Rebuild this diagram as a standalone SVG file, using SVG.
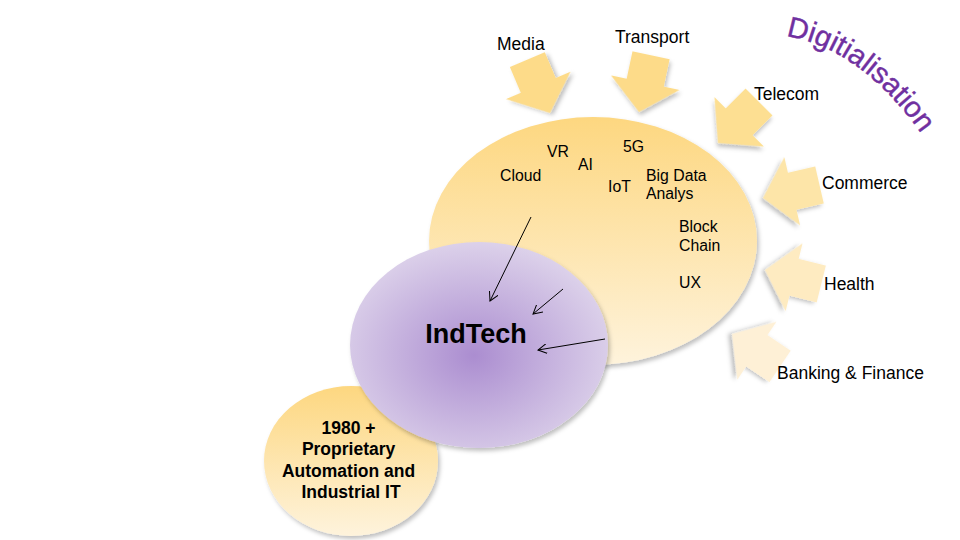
<svg xmlns="http://www.w3.org/2000/svg" xmlns:xlink="http://www.w3.org/1999/xlink" width="960" height="540" viewBox="0 0 960 540">
<defs>
<style>
.lbl{font-family:"Liberation Sans",Arial,sans-serif;font-size:17.5px;fill:#000}
.in{font-family:"Liberation Sans",Arial,sans-serif;font-size:15.8px;fill:#000}
.bold{font-family:"Liberation Sans",Arial,sans-serif;font-weight:bold;fill:#000}
.barrow{filter:url(#shadow)}
.conn{stroke:#000;stroke-width:1;fill:none;marker-end:url(#open)}
</style>
<linearGradient id="yellow" x1="0" y1="0" x2="0" y2="1">
<stop offset="0" stop-color="#fdd780"/>
<stop offset="1" stop-color="#fef3dc"/>
</linearGradient>
<radialGradient id="purple" cx="0.48" cy="0.55" r="0.55">
<stop offset="0" stop-color="#ab8dd0"/>
<stop offset="1" stop-color="#dcd1ea"/>
</radialGradient>
<filter id="shadow" x="-20%" y="-20%" width="140%" height="140%">
<feDropShadow dx="2" dy="3" stdDeviation="2" flood-color="#000" flood-opacity="0.25"/>
</filter>
<marker id="open" viewBox="0 0 10 10" refX="9" refY="5" markerWidth="10" markerHeight="10" markerUnits="userSpaceOnUse" orient="auto">
<path d="M0,0 L9,5 L0,10" fill="none" stroke="#000" stroke-width="1"/>
</marker>
<polygon id="blk" points="0,0 35,-30 19,-30 19,-58 -19,-58 -19,-30 -35,-30"/>
<path id="arc" d="M 786 36 Q 868 50 932 150"/>
</defs>

<g id="block-arrows">
<use href="#blk" class="barrow" fill="#fddb89" transform="translate(550,113) rotate(-23)"/>
<use href="#blk" class="barrow" fill="#fddb89" transform="translate(639,112) rotate(12)"/>
<use href="#blk" class="barrow" fill="#fddf92" transform="translate(718,143) rotate(45)"/>
<use href="#blk" class="barrow" fill="#fde5a8" transform="translate(763,198) rotate(77)"/>
<use href="#blk" class="barrow" fill="#feebc1" transform="translate(765,270) rotate(104)"/>
<use href="#blk" class="barrow" fill="#fef0d6" transform="translate(732,334) rotate(124)"/>
</g>

<g id="digital-tech">
<ellipse cx="593" cy="241" rx="164" ry="124" fill="url(#yellow)" filter="url(#shadow)"/>
</g>
<g id="legacy">
<ellipse cx="351" cy="461" rx="87" ry="75" fill="url(#yellow)" filter="url(#shadow)"/>
<text class="bold" font-size="17.5" text-anchor="middle">
<tspan x="351" y="434">1980 +</tspan>
<tspan x="351" y="455">Proprietary</tspan>
<tspan x="351" y="477">Automation and</tspan>
<tspan x="351" y="498">Industrial IT</tspan>
</text>
</g>
<g id="indtech">
<ellipse cx="479" cy="345" rx="129" ry="103" fill="url(#purple)" filter="url(#shadow)"/>
<text class="bold" font-size="27" x="476" y="343" text-anchor="middle">IndTech</text>
</g>

<g id="connectors">
<line class="conn" x1="531" y1="217" x2="490" y2="301"/>
<line class="conn" x1="563" y1="289" x2="533" y2="314"/>
<line class="conn" x1="605" y1="339" x2="538" y2="350"/>
</g>

<g id="tech-labels">
<text class="in" x="547" y="157">VR</text>
<text class="in" x="578" y="170">AI</text>
<text class="in" x="623" y="152">5G</text>
<text class="in" x="500" y="181">Cloud</text>
<text class="in" x="608" y="192">IoT</text>
<text class="in" x="646" y="181">Big Data</text>
<text class="in" x="646" y="199">Analys</text>
<text class="in" x="679" y="232">Block</text>
<text class="in" x="679" y="251">Chain</text>
<text class="in" x="679" y="288">UX</text>
</g>

<g id="sector-labels">
<text class="lbl" x="497" y="50">Media</text>
<text class="lbl" x="615" y="43">Transport</text>
<text class="lbl" x="754" y="100">Telecom</text>
<text class="lbl" x="822" y="189">Commerce</text>
<text class="lbl" x="824" y="290">Health</text>
<text class="lbl" x="777" y="379">Banking &amp; Finance</text>
</g>

<g id="title">
<text font-family="'Liberation Sans',Arial,sans-serif" font-size="29" fill="#7030a0" stroke="#7030a0" stroke-width="0.4"><textPath href="#arc">Digitialisation</textPath></text>
</g>
</svg>
